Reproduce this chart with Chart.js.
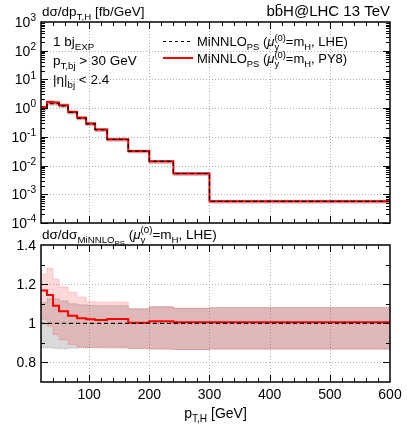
<!DOCTYPE html>
<html>
<head>
<meta charset="utf-8">
<script src="https://cdn.jsdelivr.net/npm/chart.js@4.4.0/dist/chart.umd.min.js"></script>
<style>
  html, body { margin: 0; padding: 0; background: #fff; }
  #wrap { position: relative; width: 407px; height: 429px; }
  canvas { position: absolute; left: 0; top: 0; }
</style>
</head>
<body>
<div id="wrap">
  <canvas id="topChart" width="407" height="429"></canvas>
  <canvas id="ratioChart" width="407" height="429"></canvas>
</div>
<script>
// Histogram bin edges (GeV)
const binEdges = [20, 30, 40, 50, 65, 80, 95, 110, 130, 165, 200, 240, 300, 600];

// dsigma/dpT,H [fb/GeV]
const py8Xsec = [1.1, 1.65, 1.57, 1.27, 0.74, 0.46, 0.29, 0.18, 0.083, 0.032, 0.0141, 0.0053, 0.00057];
const lheXsec = [0.94, 1.44, 1.44, 1.2, 0.71, 0.45, 0.284, 0.177, 0.081, 0.032, 0.0139, 0.0053, 0.00057];

// Ratio to MiNNLO_PS LHE central value
const py8Ratio    = [1.167, 1.145, 1.089, 1.062, 1.038, 1.026, 1.020, 1.017, 1.022, 1.003, 1.011, 1.005, 1.005];
const py8BandUp   = [1.25, 1.28, 1.225, 1.185, 1.158, 1.133, 1.11, 1.108, 1.108, 1.072, 1.084, 1.077, 1.08];
const py8BandDown = [1.02, 0.985, 0.942, 0.915, 0.89, 0.878, 0.875, 0.874, 0.873, 0.870, 0.868, 0.866, 0.868];
const lheBandUp   = [1.105, 1.125, 1.125, 1.115, 1.10, 1.095, 1.092, 1.09, 1.09, 1.075, 1.084, 1.077, 1.08];
const lheBandDown = [0.875, 0.875, 0.872, 0.87, 0.872, 0.875, 0.877, 0.878, 0.878, 0.872, 0.868, 0.866, 0.868];

// Axis ticks
const xTickLabels = [100, 200, 300, 400, 500, 600];
const topExponents = [-4, -3, -2, -1, 0, 1, 2, 3];
const ratioTickLabels = [0.8, 1, 1.2, 1.4];

const FONT = '"Liberation Sans", Arial, sans-serif';
const PINK_FILL = 'rgba(255, 0, 0, 0.15)';
const PINK_EDGE = 'rgba(255, 60, 60, 0.45)';
const GREY_FILL = 'rgba(128, 128, 128, 0.3)';
const GREY_EDGE = 'rgba(100, 100, 100, 0.45)';

// turn per-bin values into points for a stepped line
function steps(vals) {
    const pts = vals.map((v, i) => ({ x: binEdges[i], y: v }));
    pts.push({ x: binEdges[binEdges.length - 1], y: vals[vals.length - 1] });
    return pts;
}

function times(a, b) {
    return a.map((v, i) => v * b[i]);
}

// 'before' in Chart.js = horizontal first, then the vertical jump
const lineBase = { pointRadius: 0, stepped: 'before', tension: 0, fill: false };

// Draw text with sub/superscripts. parts: [text, mode, stacked]
function richText(ctx, x, y, parts, size, align) {
    const spec = {
        n:  { s: 1.0,  dy: 0 },
        i:  { s: 1.0,  dy: 0, it: true },
        b:  { s: 0.72, dy: 0.3 },
        p:  { s: 0.72, dy: -0.42 },
        bb: { s: 0.58, dy: 0.5 }
    };
    const fontFor = (m) => (spec[m].it ? 'italic ' : '') + (size * spec[m].s).toFixed(1) + 'px ' + FONT;
    // measure
    let w = 0, start = 0, end = 0;
    parts.forEach(p => {
        ctx.font = fontFor(p[1] || 'n');
        const pw = ctx.measureText(p[0]).width;
        if (p[2]) { end = Math.max(end, start + pw); w = end; }
        else { start = w; end = w + pw; w = end; }
    });
    let cx = align === 'right' ? x - w : (align === 'center' ? x - w / 2 : x);
    const x0 = cx;
    start = cx; end = cx;
    ctx.textAlign = 'left';
    parts.forEach(p => {
        const m = p[1] || 'n';
        ctx.font = fontFor(m);
        const pw = ctx.measureText(p[0]).width;
        let px;
        if (p[2]) { px = start; end = Math.max(end, start + pw); }
        else { start = end; px = start; end = start + pw; }
        ctx.fillText(p[0], px, y + spec[m].dy * size);
    });
    return end - x0;
}

const panelDecor = {
    id: 'panelDecor',
    beforeDatasetsDraw(chart, args, opts) {
        const { ctx, chartArea: a, scales } = chart;
        ctx.save();
        ctx.strokeStyle = '#b0b0b0';
        ctx.lineWidth = 1;
        ctx.setLineDash([1, 2]);
        ctx.beginPath();
        [100, 200, 300, 400, 500].forEach(v => {
            const px = Math.round(scales.x.getPixelForValue(v)) + 0.5;
            ctx.moveTo(px, a.top); ctx.lineTo(px, a.bottom);
        });
        const yGrid = opts.kind === 'top'
            ? [1e-3, 1e-2, 1e-1, 1, 10, 100]
            : [0.8, 1.0, 1.2];
        yGrid.forEach(v => {
            const py = Math.round(scales.y.getPixelForValue(v)) + 0.5;
            ctx.moveTo(a.left, py); ctx.lineTo(a.right, py);
        });
        ctx.stroke();
        ctx.restore();
    },
    afterDraw(chart, args, opts) {
        const { ctx, chartArea: a, scales } = chart;
        ctx.save();
        ctx.strokeStyle = '#000';
        ctx.lineWidth = 1;
        ctx.beginPath();
        // x ticks, every 20 GeV, inward on both edges
        for (let v = 40; v < 600; v += 20) {
            const len = v % 100 === 0 ? 7 : 4;
            const px = Math.round(scales.x.getPixelForValue(v)) + 0.5;
            ctx.moveTo(px, a.bottom); ctx.lineTo(px, a.bottom - len);
            ctx.moveTo(px, a.top); ctx.lineTo(px, a.top + len);
        }
        // y ticks
        const yt = [];
        if (opts.kind === 'top') {
            for (let e = -4; e < 3; e++) {
                for (let k = 1; k < 10; k++) yt.push([k * Math.pow(10, e), k === 1 ? 7 : 4]);
            }
        } else {
            [0.8, 0.9, 1.0, 1.1, 1.2, 1.3].forEach(v => {
                yt.push([v, Math.round(v * 10) % 2 === 0 ? 7 : 4]);
            });
        }
        yt.forEach(([v, len]) => {
            const py = Math.round(scales.y.getPixelForValue(v)) + 0.5;
            ctx.moveTo(a.left, py); ctx.lineTo(a.left + len, py);
            ctx.moveTo(a.right, py); ctx.lineTo(a.right - len, py);
        });
        ctx.stroke();
        // frame
        ctx.lineWidth = 1.5;
        ctx.strokeRect(a.left, a.top, a.right - a.left, a.bottom - a.top);

        ctx.fillStyle = '#000';
        ctx.textBaseline = 'alphabetic';
        if (opts.kind === 'top') {
            topExponents.forEach(e => {
                const py = scales.y.getPixelForValue(Math.pow(10, e));
                richText(ctx, a.left - 5, py + 5, [['10'], [String(e), 'p']], 14, 'right');
            });
            // titles
            richText(ctx, 42, 16, [['d\u03c3/dp'], ['T,H', 'b'], [' [fb/GeV]']], 13.5);
            richText(ctx, a.right, 16, [['bb\u0304H@LHC 13 TeV']], 15, 'right');
            // cuts
            richText(ctx, 53, 46, [['1 bj'], ['EXP', 'b']], 13.5);
            richText(ctx, 53, 65, [['p'], ['T,bj', 'b'], [' > 30 GeV']], 13.5);
            richText(ctx, 53, 84, [['|\u03b7|'], ['bj', 'b'], [' < 2.4']], 13.5);
            // legend
            ctx.lineWidth = 1;
            ctx.strokeStyle = '#000';
            ctx.setLineDash([3, 3]);
            ctx.beginPath(); ctx.moveTo(163, 41.5); ctx.lineTo(193, 41.5); ctx.stroke();
            ctx.setLineDash([]);
            ctx.strokeStyle = '#ff0000';
            ctx.lineWidth = 2;
            ctx.beginPath(); ctx.moveTo(163, 58); ctx.lineTo(193, 58); ctx.stroke();
            const legParts = (tag) => [['MiNNLO'], ['PS', 'b'], [' ('], ['\u03bc', 'i'], ['y', 'b'], ['(0)', 'p', true], ['=m'], ['H', 'b'], [', ' + tag + ')']];
            richText(ctx, 197, 46, legParts('LHE'), 13);
            richText(ctx, 197, 63, legParts('PY8'), 13);
        } else {
            ctx.font = '14px ' + FONT;
            ctx.textAlign = 'right';
            ratioTickLabels.forEach(v => {
                ctx.fillText(String(v), a.left - 5, scales.y.getPixelForValue(v) + 5);
            });
            ctx.textAlign = 'center';
            xTickLabels.forEach(v => {
                ctx.fillText(String(v), scales.x.getPixelForValue(v), a.bottom + 17);
            });
            richText(ctx, 42, a.top - 6, [['d\u03c3/d\u03c3'], ['MiNNLO', 'b'], ['PS', 'bb'], [' ('], ['\u03bc', 'i'], ['y', 'b'], ['(0)', 'p', true], ['=m'], ['H', 'b'], [', LHE)']], 13.5);
            richText(ctx, scales.x.getPixelForValue(310), a.bottom + 36, [['p'], ['T,H', 'b'], [' [GeV]']], 14, 'center');
        }
        ctx.restore();
    }
};

function makeDatasets(lheLine, py8Line, pinkUp, pinkDown, greyUp, greyDown) {
    return [
        Object.assign({}, lineBase, { data: steps(lheLine), borderColor: '#000', borderWidth: 1.2, borderDash: [4, 3] }),
        Object.assign({}, lineBase, { data: steps(py8Line), borderColor: '#ff0000', borderWidth: 2 }),
        Object.assign({}, lineBase, { data: steps(pinkUp), borderColor: PINK_EDGE, borderWidth: 1, borderDash: [1, 1], fill: '+1', backgroundColor: PINK_FILL }),
        Object.assign({}, lineBase, { data: steps(pinkDown), borderColor: PINK_EDGE, borderWidth: 1, borderDash: [1, 1] }),
        Object.assign({}, lineBase, { data: steps(greyUp), borderColor: GREY_EDGE, borderWidth: 1, borderDash: [1, 1], fill: '+1', backgroundColor: GREY_FILL }),
        Object.assign({}, lineBase, { data: steps(greyDown), borderColor: GREY_EDGE, borderWidth: 1, borderDash: [1, 1] })
    ];
}

function baseOptions(padding, yScale, kind) {
    return {
        responsive: false,
        animation: false,
        devicePixelRatio: 1,
        events: [],
        layout: { padding: padding },
        scales: {
            x: { type: 'linear', min: 20, max: 600, display: false },
            y: Object.assign({ display: false }, yScale)
        },
        plugins: {
            legend: { display: false },
            tooltip: { enabled: false },
            panelDecor: { kind: kind }
        }
    };
}

new Chart(document.getElementById('topChart'), {
    type: 'line',
    data: {
        datasets: makeDatasets(
            lheXsec, py8Xsec,
            times(lheXsec, py8BandUp), times(lheXsec, py8BandDown),
            times(lheXsec, lheBandUp), times(lheXsec, lheBandDown)
        )
    },
    options: baseOptions({ left: 41, right: 17, top: 22, bottom: 206 },
        { type: 'logarithmic', min: 1e-4, max: 1e3 }, 'top'),
    plugins: [panelDecor]
});

new Chart(document.getElementById('ratioChart'), {
    type: 'line',
    data: {
        datasets: makeDatasets(
            binEdges.slice(1).map(() => 1), py8Ratio,
            py8BandUp, py8BandDown, lheBandUp, lheBandDown
        )
    },
    options: baseOptions({ left: 41, right: 17, top: 245, bottom: 47 },
        { type: 'linear', min: 0.7, max: 1.4 }, 'ratio'),
    plugins: [panelDecor]
});
</script>
</body>
</html>
